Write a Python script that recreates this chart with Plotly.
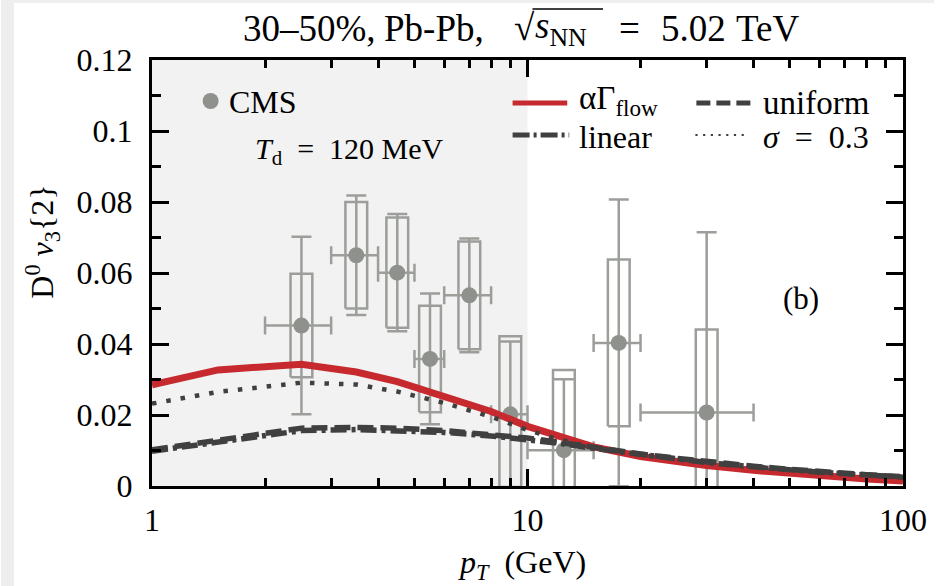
import plotly.graph_objects as go

# ---------------- data ----------------
# CMS D0 v3{2}, 30-50%
cms_pt = [2.5, 3.5, 4.5, 5.5, 7.0, 9.0, 12.5, 17.5, 30.0]
cms_pt_lo = [2.0, 3.0, 4.0, 5.0, 6.0, 8.0, 10.0, 15.0, 20.0]
cms_pt_hi = [3.0, 4.0, 5.0, 6.0, 8.0, 10.0, 15.0, 20.0, 40.0]
cms_v3 = [0.0452, 0.0650, 0.0601, 0.0358, 0.0537, 0.0202, 0.0101, 0.0403, 0.0207]
cms_stat = [0.0250, 0.0168, 0.0165, 0.0184, 0.0160, 0.0205, 0.0200, 0.0404, 0.0508]
cms_syst = [0.0146, 0.0150, 0.0155, 0.0150, 0.0152, 0.0220, 0.0226, 0.0235, 0.0234]

# model curves
curve_pt = [1, 1.5, 2.5, 3.5, 4.5, 6, 8, 10, 12, 15, 20, 25, 30, 40, 50, 60, 80, 100]
v3_flow = [0.0285, 0.0327, 0.0343, 0.0321, 0.0294, 0.0254, 0.0210, 0.0168, 0.0141,
           0.0110, 0.0083, 0.0068, 0.0058, 0.0044, 0.0035, 0.0028, 0.0020, 0.0014]
v3_uniform = [0.0102, 0.0130, 0.0163, 0.0165, 0.0163, 0.0156, 0.0146, 0.0135, 0.0124,
              0.0108, 0.0090, 0.0078, 0.0068, 0.0056, 0.0047, 0.0040, 0.0032, 0.0026]
v3_linear = [0.0098, 0.0124, 0.0156, 0.0159, 0.0157, 0.0151, 0.0141, 0.0131, 0.0121,
             0.0106, 0.0088, 0.0076, 0.0066, 0.0054, 0.0045, 0.0039, 0.0031, 0.0025]
v3_sigma = [0.0232, 0.0265, 0.0291, 0.0286, 0.0266, 0.0234, 0.0195, 0.0158, 0.0132,
            0.0108, 0.0088, 0.0076, 0.0066, 0.0054, 0.0046, 0.0039, 0.0031, 0.0025]

y_tickvals = [0, 0.02, 0.04, 0.06, 0.08, 0.10, 0.12]
y_ticktext = ["0", "0.02", "0.04", "0.06", "0.08", "0.1", "0.12"]
x_tickvals = [1, 10, 100]
x_ticktext = ["1", "10", "100"]

# ---------------- style ----------------
W, H = 939, 586
ML, MR, MT, MB = 152, 31, 60, 100
FONT = "Liberation Serif, Times New Roman, serif"
GRAY_DATA = "#8f918d"
GRAY_BOX = "#9c9e9a"
RED = "#c62a2f"
DARK = "#404040"
BOX_HALF = 1.069  # box half-width as ratio on log axis
NB = "\u00a0"

PW = W - ML - MR
PH = H - MT - MB


def px(xp):
    return (xp - ML) / PW


def py(yp):
    return (H - MB - yp) / PH


fig = go.Figure()

# systematic boxes
bx, by = [], []
for p, v, s in zip(cms_pt, cms_v3, cms_syst):
    a, b = p / BOX_HALF, p * BOX_HALF
    bx += [a, b, b, a, a, None]
    by += [v - s, v - s, v + s, v + s, v - s, None]
fig.add_trace(go.Scatter(x=bx, y=by, mode="lines",
                         line=dict(color=GRAY_BOX, width=2.5),
                         showlegend=False, hoverinfo="skip"))

# CMS points with stat errors
fig.add_trace(go.Scatter(
    x=cms_pt, y=cms_v3, mode="markers", name="CMS",
    marker=dict(color=GRAY_DATA, size=16),
    error_y=dict(type="data", array=cms_stat, color=GRAY_BOX, thickness=2.5, width=10),
    error_x=dict(type="data",
                 array=[h - p for h, p in zip(cms_pt_hi, cms_pt)],
                 arrayminus=[p - l for p, l in zip(cms_pt, cms_pt_lo)],
                 color=GRAY_BOX, thickness=2.5, width=9),
    showlegend=False))

# model curves
fig.add_trace(go.Scatter(x=curve_pt, y=v3_flow, mode="lines", name="αΓflow",
                         line=dict(color=RED, width=7), showlegend=False))
fig.add_trace(go.Scatter(x=curve_pt, y=v3_sigma, mode="lines", name="σ = 0.3",
                         line=dict(color=DARK, width=4.5, dash="4.5px,10px"), showlegend=False))
fig.add_trace(go.Scatter(x=curve_pt, y=v3_linear, mode="lines", name="linear",
                         line=dict(color=DARK, width=5.5, dash="16px,5px,4px,5px"), showlegend=False))
fig.add_trace(go.Scatter(x=curve_pt, y=v3_uniform, mode="lines", name="uniform",
                         line=dict(color=DARK, width=5.5, dash="16px,7px"), showlegend=False))

shapes = []
# shaded low-pT region (pT 1..10 = half of log range 1..100)
shapes.append(dict(type="rect", xref="paper", yref="paper", x0=0, x1=0.5, y0=0, y1=1,
                   fillcolor="#f2f2f2", line=dict(width=0), layer="below"))
# light page border strips of the original screenshot
shapes.append(dict(type="rect", xref="paper", yref="paper", x0=px(0), x1=px(13),
                   y0=py(H), y1=py(0), fillcolor="#eeeeee", line=dict(width=0), layer="below"))
shapes.append(dict(type="rect", xref="paper", yref="paper", x0=px(0), x1=px(W),
                   y0=py(3), y1=py(0), fillcolor="#eeeeee", line=dict(width=0), layer="below"))

# legend samples
shapes.append(dict(type="line", xref="paper", yref="paper", x0=px(515), x1=px(570),
                   y0=py(103), y1=py(103), line=dict(color=RED, width=5)))
shapes.append(dict(type="line", xref="paper", yref="paper", x0=px(515), x1=px(572),
                   y0=py(135), y1=py(135), line=dict(color=DARK, width=5, dash="17px,4px,3px,4px")))
shapes.append(dict(type="line", xref="paper", yref="paper", x0=px(700), x1=px(757),
                   y0=py(103), y1=py(103), line=dict(color=DARK, width=5, dash="14px,6px")))
shapes.append(dict(type="line", xref="paper", yref="paper", x0=px(699), x1=px(750),
                   y0=py(135), y1=py(135), line=dict(color=DARK, width=2.2, dash="2.2px,5.5px")))
shapes.append(dict(type="circle", xref="paper", yref="paper",
                   xsizemode="pixel", ysizemode="pixel",
                   xanchor=px(211), yanchor=py(101), x0=-8, x1=8, y0=-8, y1=8,
                   fillcolor=GRAY_DATA, line=dict(width=0)))
# overline of the square root in the title
shapes.append(dict(type="line", xref="paper", yref="paper", x0=px(535), x1=px(606),
                   y0=py(9), y1=py(9), line=dict(color="black", width=1.6)))

ann = []


def text(x, y, s, size=30, xanchor="left", angle=0):
    ann.append(dict(x=px(x), y=py(y), xref="paper", yref="paper", text=s, showarrow=False,
                    xanchor=xanchor, yanchor="middle", textangle=angle,
                    font=dict(family=FONT, size=size, color="black")))


# title laid out in pieces (LaTeX-like spacing)
TS = 37
text(242, 28, "30–50%,", size=TS)
text(384, 28, "Pb-Pb,", size=TS)
text(514, 27, "√", size=TS)
text(536, 29, "<i>s</i><sub>NN</sub>", size=TS)
text(620, 28, "=", size=TS)
text(662, 28, "5.02", size=TS)
text(738, 28, "TeV", size=TS)

text(228, 102, "CMS", size=32)
text(254, 151, "<i>T</i><sub>d</sub>" + NB + NB + "=" + NB + NB + "120" + NB + "MeV", size=30)
text(580, 101, "αΓ<sub>flow</sub>", size=33)
text(580, 137, "linear", size=32)
text(765, 103, "uniform", size=33)
text(765, 137, "<i>σ</i>" + NB + NB + "=" + NB + NB + "0.3", size=32)
text(805, 298, "(b)", size=31, xanchor="center")
text(42, 242, "D<sup>0</sup>" + NB + "<i>v</i><sub>3</sub>{2}", size=32, xanchor="center", angle=-90)
text(524, 564, "<i>p<sub>T</sub></i>" + NB + NB + "(GeV)", size=32, xanchor="center")

fig.update_layout(
    width=W, height=H,
    margin=dict(l=ML, r=MR, t=MT, b=MB, pad=0),
    paper_bgcolor="white", plot_bgcolor="white",
    font=dict(family=FONT, size=31, color="black"),
    shapes=shapes, annotations=ann,
    showlegend=False,
)
fig.update_xaxes(type="log", range=[0, 2], tickvals=x_tickvals, ticktext=x_ticktext,
                 ticks="inside", ticklen=17, tickwidth=2.5, tickcolor="black",
                 showline=True, linewidth=3, linecolor="black", mirror="ticks",
                 showgrid=False, zeroline=False, ticklabelstandoff=4,
                 tickfont=dict(family=FONT, size=32),
                 minor=dict(ticks="inside", ticklen=8, tickwidth=2.5, tickcolor="black",
                            tickvals=[2, 3, 4, 5, 6, 7, 8, 9, 20, 30, 40, 50, 60, 70, 80, 90],
                            showgrid=False))
fig.update_yaxes(range=[0, 0.12], tickvals=y_tickvals, ticktext=y_ticktext,
                 ticks="inside", ticklen=17, tickwidth=2.5, tickcolor="black",
                 showline=True, linewidth=3, linecolor="black", mirror="ticks",
                 showgrid=False, zeroline=False, ticklabelstandoff=10,
                 tickfont=dict(family=FONT, size=32),
                 minor=dict(ticks="inside", ticklen=9, tickwidth=2.5, tickcolor="black",
                            dtick=0.01, showgrid=False))

fig.write_html("out.html")
